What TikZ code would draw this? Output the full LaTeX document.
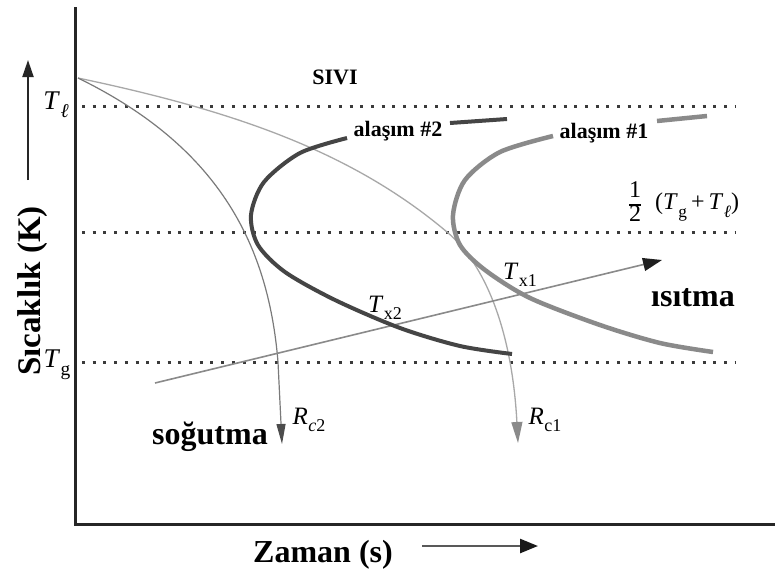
\documentclass[tikz,border=0pt]{standalone}
\usepackage{fontspec}
\setmainfont{Liberation Serif}
\usetikzlibrary{arrows.meta}
\definecolor{axisc}{HTML}{262626}
\definecolor{dotc}{HTML}{3A3A3A}
\definecolor{alloytwo}{HTML}{454545}
\definecolor{alloyone}{HTML}{8A8A8A}
\definecolor{lightc}{HTML}{A8A8A8}
\definecolor{midc}{HTML}{7A7A7A}
\newcommand{\lowsub}[1]{\kern0.02em\raisebox{-0.3em}{\scalebox{0.72}{#1}}}
\tikzset{
  axisline/.style={line width=3pt, draw=axisc},
  dotline/.style={line width=3pt, draw=dotc, dash pattern=on 3pt off 7.7pt},
  boldlbl/.style={font=\fontsize{32}{36}\selectfont\bfseries, inner sep=0pt},
  smalllbl/.style={font=\fontsize{22}{26}\selectfont\bfseries, inner sep=0pt},
  mathlbl/.style={font=\fontsize{25}{28}\selectfont, inner sep=0pt},
  alloyA/.style={line width=4pt, draw=alloytwo},
  alloyB/.style={line width=4.5pt, draw=alloyone},
}
\begin{document}
\begin{tikzpicture}[x=1pt,y=-1pt]
\useasboundingbox (0,0) rectangle (775,579);
\fill[white] (0,0) rectangle (775,579);

% axes
\coordinate (ytop) at (75,7);
\coordinate (orig) at (75,524);
\coordinate (xend) at (775,524);
\draw[axisline] (ytop) -- (orig) -- (xend);

% dotted levels
\coordinate (l1a) at (82,106); \coordinate (l1b) at (735,106);
\coordinate (l2a) at (82,232); \coordinate (l2b) at (735,232);
\coordinate (l3a) at (82,362); \coordinate (l3b) at (735,362);
\draw[dotline] (l1a) -- (l1b);
\draw[dotline] (l2a) -- (l2b);
\draw[dotline] (l3a) -- (l3b);

% axis arrows
\coordinate (ya0) at (28,180); \coordinate (ya1) at (28,60);
\draw[line width=2pt, draw=black!85, -{Triangle[length=17pt,width=11pt]}] (ya0) -- (ya1);
\coordinate (xa0) at (422,546); \coordinate (xa1) at (538,546);
\draw[line width=2.5pt, draw=black!65, -{Triangle[length=18pt,width=14pt,color=black!90]}] (xa0) -- (xa1);

% cooling curves
\coordinate (start) at (78,78);
\coordinate (rc1mid) at (447,232);
\coordinate (rc1tip) at (518,443);
\coordinate (rc2mid) at (278,362);
\coordinate (rc2tip) at (282,444);
\draw[line width=1.3pt, draw=lightc, -{Triangle[length=21pt,width=11pt,color=alloyone]}]
  (start) .. controls (230,110) and (350,150) .. (rc1mid)
          .. controls (485,264) and (512,330) .. (rc1tip);
\draw[line width=1.2pt, draw=midc, -{Triangle[length=20pt,width=9pt,color=black!70]}]
  (start) .. controls (215,145) and (268,240) .. (rc2mid) -- (rc2tip);

% heating line
\coordinate (h0) at (155,383);
\coordinate (h1) at (662,260);
\draw[line width=1.6pt, draw=alloyone, -{Triangle[length=19pt,width=13pt,color=black!88]}] (h0) -- (h1);

% alloy 2 C-curve
\coordinate (a2s) at (347,138);
\coordinate (a2e) at (512,354);
\draw[alloyA] plot[smooth] coordinates {(a2s) (300,153) (264,182) (251,215) (258,245) (285,272) (335,300) (400,328) (460,346) (a2e)};
% alloy 1 C-curve
\coordinate (a1s) at (553,136);
\coordinate (a1e) at (713,352);
\draw[alloyB] plot[smooth] coordinates {(a1s) (500,152) (465,180) (453,215) (460,245) (485,270) (530,298) (600,325) (660,343) (a1e)};

% legend samples
\coordinate (s2a) at (450,123); \coordinate (s2b) at (507,119);
\draw[line width=4pt, draw=alloytwo] (s2a) -- (s2b);
\coordinate (s1a) at (657,121); \coordinate (s1b) at (707,116);
\draw[line width=4.5pt, draw=alloyone] (s1a) -- (s1b);

% labels
\node[smalllbl] (sivi) at (335,77) {SIVI};
\node[smalllbl] (al2) at (398,131) {alaşım \#2};
\node[smalllbl] (al1) at (604,133) {alaşım \#1};
\node[font=\fontsize{24}{24}\selectfont, inner sep=0pt, anchor=center] (half) at (635,205)
  {\setlength{\arrayrulewidth}{1.2pt}\renewcommand{\arraystretch}{0.9}\begin{tabular}{@{}c@{}}1\\\hline 2\end{tabular}};
\node[font=\fontsize{24}{26}\selectfont, inner sep=0pt, anchor=west] (sum) at (655,207)
  {(\textit{T}\lowsub{g}\,+\,\textit{T}\lowsub{\textit{ℓ}})};
\node[mathlbl, font=\fontsize{27}{28}\selectfont] (tl) at (56,105) {\textit{T}\lowsub{\textit{ℓ}}};
\node[mathlbl, font=\fontsize{27}{28}\selectfont] (tg) at (57,365) {\textit{T}\lowsub{g}};
\node[mathlbl] (tx2) at (385,308) {\textit{T}\lowsub{x2}};
\node[mathlbl] (tx1) at (520,275) {\textit{T}\lowsub{x1}};
\node[mathlbl] (rc2) at (309,420) {\textit{R}\lowsub{\textit{c}2}};
\node[mathlbl] (rc1) at (545,420) {\textit{R}\lowsub{c1}};
\node[boldlbl] (sog) at (210,437) {soğutma};
\node[boldlbl] (isi) at (693,298) {ısıtma};
\node[boldlbl] (zam) at (323,555) {Zaman (s)};
\node[boldlbl, font=\fontsize{33}{36}\selectfont\bfseries, rotate=90] (sic) at (33,291) {Sıcaklık (K)};
\end{tikzpicture}
\end{document}
